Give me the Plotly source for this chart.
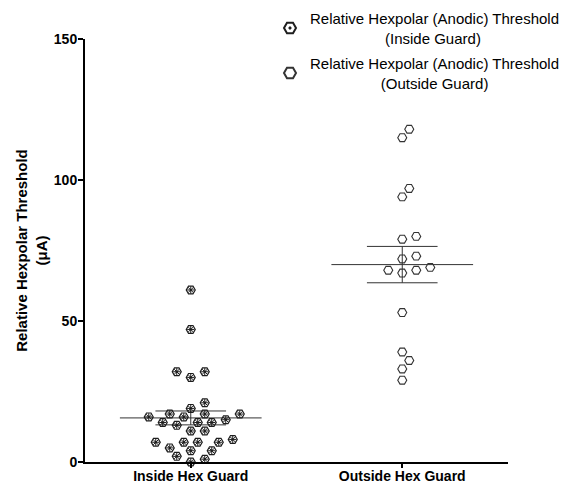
import numpy as np
import plotly.graph_objects as go

# ---------------- data ----------------
categories = ["Inside Hex Guard", "Outside Hex Guard"]
inside_values = [61, 47, 32, 32, 30, 21, 19, 17, 16, 16, 17, 17, 15, 14, 13, 14, 14,
                 11, 11, 8, 7, 7, 7, 7, 4, 5, 4, 2, 1, 0]
outside_values = [118, 115, 97, 94, 80, 79, 73, 72, 69, 68, 67, 68, 53, 39, 36, 33, 29]
series_names = ["Relative Hexpolar (Anodic) Threshold",
                "Relative Hexpolar (Anodic) Threshold"]
series_sub = ["(Inside Guard)", "(Outside Guard)"]
y_ticks = [0, 50, 100, 150]

# ---------------- geometry ----------------
W, H = 574, 483
ML, MR, MT, MB = 85, 66, 39, 21
XR = [-0.5, 1.5]
YR = [0, 150]
PW, PH = W - ML - MR, H - MT - MB
px_x = PW / (XR[1] - XR[0])
px_y = PH / (YR[1] - YR[0])

FONT = "Liberation Sans, Arial, sans-serif"


def swarm(vals, step=7.0, dist=10.5):
    vals = np.asarray(vals, dtype=float)
    order = np.argsort(vals, kind="stable")
    placed = []
    offs = np.zeros(len(vals))
    cands = [0] + [s * k for k in range(1, 30) for s in (1, -1)]
    for i in order:
        y = vals[i] * px_y
        x = 0.0
        for k in cands:
            x = k * step
            if all((x - a) ** 2 + (y - b) ** 2 >= dist ** 2 for a, b in placed):
                break
        placed.append((x, y))
        offs[i] = x / px_x
    return offs


def pad_center(line1, line2, extra=-4):
    n = max(0, int(round((len(line1) - len(line2)) * 1.0)) + extra)
    return line1 + "<br>" + "\u00a0" * n + line2


fig = go.Figure()

groups = [inside_values, outside_values]
MEAN_HALF = 0.335
SEM_HALF = 0.167
line_x, line_y = [], []
for ci, vals in enumerate(groups):
    v = np.asarray(vals, dtype=float)
    m = v.mean()
    sem = v.std(ddof=1) / np.sqrt(len(v))
    line_x += [ci - MEAN_HALF, ci + MEAN_HALF, None,
               ci - SEM_HALF, ci + SEM_HALF, None,
               ci - SEM_HALF, ci + SEM_HALF, None,
               ci, ci, None]
    line_y += [m, m, None, m + sem, m + sem, None, m - sem, m - sem, None,
               m - sem, m + sem, None]

fig.add_trace(go.Scatter(x=line_x, y=line_y, mode="lines",
                         line=dict(color="#333333", width=1),
                         showlegend=False, hoverinfo="skip"))

in_x = 0 + swarm(inside_values)
out_x = 1 + swarm(outside_values)

INK_IN = "#1e1e1e"
INK_OUT = "#333333"
fig.add_trace(go.Scatter(
    x=in_x, y=inside_values, mode="markers", legendgroup="in",
    name=pad_center(series_names[0], series_sub[0]),
    marker=dict(symbol="hexagon2-open-dot", size=9, color=INK_IN,
                line=dict(width=1.2, color=INK_IN)),
    cliponaxis=False))
fig.add_trace(go.Scatter(
    x=in_x, y=inside_values, mode="markers", showlegend=False, legendgroup="in",
    marker=dict(symbol="asterisk-open", size=6, color=INK_IN,
                line=dict(width=1, color=INK_IN)),
    cliponaxis=False, hoverinfo="skip"))
fig.add_trace(go.Scatter(
    x=out_x, y=outside_values, mode="markers", legendgroup="out",
    name=pad_center(series_names[1], series_sub[1]),
    marker=dict(symbol="hexagon2-open", size=9, color=INK_OUT,
                line=dict(width=1.1, color=INK_OUT)),
    cliponaxis=False))

fig.update_layout(
    width=W, height=H,
    margin=dict(l=ML, r=MR, t=MT, b=MB, pad=0, autoexpand=False),
    paper_bgcolor="white", plot_bgcolor="white",
    font=dict(family=FONT, color="black"),
    legend=dict(x=(270 - ML) / PW, y=(H - MB - 2) / PH,
                xanchor="left", yanchor="top", bgcolor="rgba(0,0,0,0)",
                font=dict(size=15, family=FONT, color="black"),
                valign="middle", itemsizing="constant", tracegroupgap=3),
    xaxis=dict(range=XR, tickvals=[0, 1], ticktext=categories,
               showline=True, linewidth=2, linecolor="black", mirror=False,
               ticks="outside", ticklen=4, tickwidth=2, tickcolor="black",
               showgrid=False, zeroline=False, automargin=False,
               ticklabelstandoff=-4,
               tickfont=dict(size=14, family=FONT, weight="bold")),
    yaxis=dict(range=YR, tickvals=y_ticks,
               showline=True, linewidth=2, linecolor="black",
               ticks="outside", ticklen=5, tickwidth=2, tickcolor="black",
               showgrid=False, zeroline=False, automargin=False,
               ticklabelstandoff=-2,
               tickfont=dict(size=14, family=FONT, weight="bold"),
               title=dict(text="Relative Hexpolar Threshold<br>(\u03bcA)",
                          font=dict(size=15, family=FONT, weight="bold"),
                          standoff=3)),
)

fig.write_html("out.html")
